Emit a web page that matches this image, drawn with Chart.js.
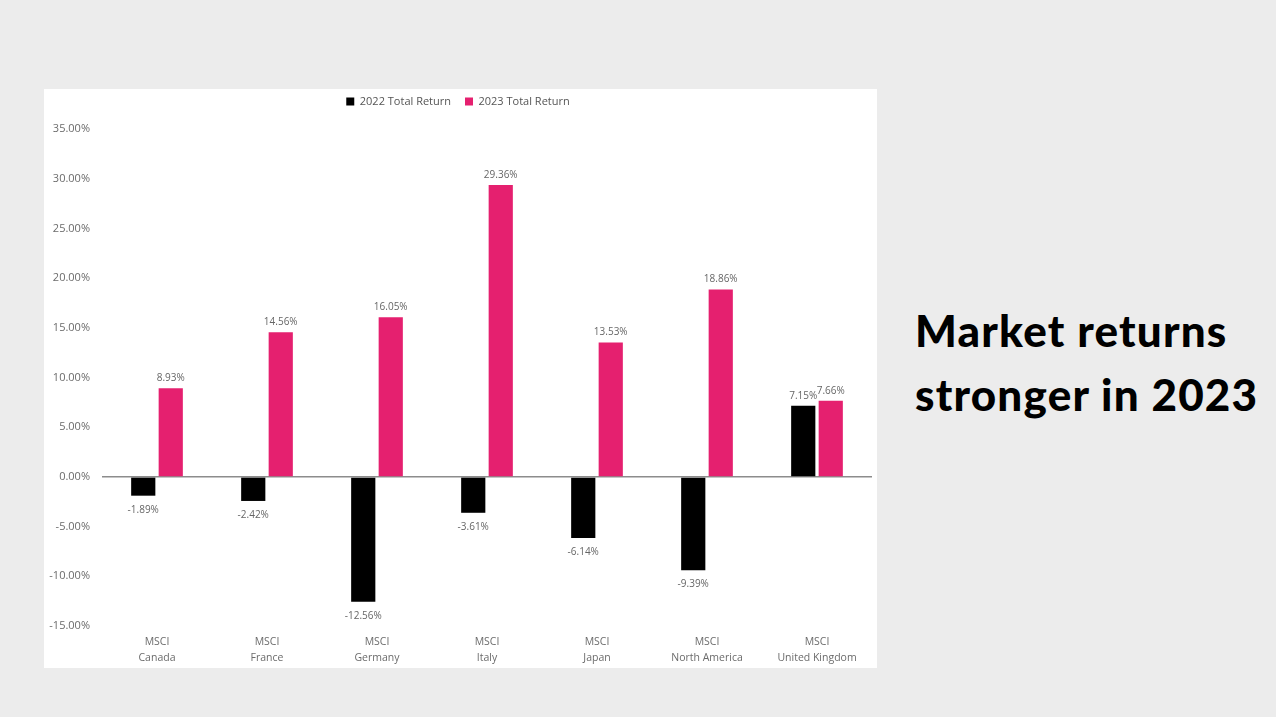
<!DOCTYPE html>
<html>
<head>
<meta charset="utf-8">
<script src="https://cdn.jsdelivr.net/npm/chart.js@4/dist/chart.umd.min.js"></script>
<style>
    html, body { margin: 0; padding: 0; }
    body { width: 1276px; height: 717px; background: #ececec; position: relative; overflow: hidden; }
    .panel { position: absolute; left: 44px; top: 89px; width: 833px; height: 579px; background: #fff; }
    .headline { position: absolute; left: 915px; top: 298px; font-family: Lato, sans-serif; font-weight: 900;
        font-size: 44px; line-height: 64px; color: #000; letter-spacing: 1.2px; }
</style>
</head>
<body>
<div class="panel">
    <canvas id="stats" width="833" height="579"></canvas>
</div>
<div class="headline">Market returns<br>stronger in 2023</div>

<script>
    var categories = [['MSCI', 'Canada'], ['MSCI', 'France'], ['MSCI', 'Germany'], ['MSCI', 'Italy'],
        ['MSCI', 'Japan'], ['MSCI', 'North America'], ['MSCI', 'United Kingdom']];
    var return2022 = [-1.89, -2.42, -12.56, -3.61, -6.14, -9.39, 7.15];
    var return2023 = [8.93, 14.56, 16.05, 29.36, 13.53, 18.86, 7.66];
    var seriesNames = ['2022 Total Return', '2023 Total Return'];

    // labels above / below each bar, plus extra room under the legend
    var barLabels = {
        id: 'barLabels',
        beforeLayout: function (chart) {
            var lg = chart.legend;
            if (lg && !lg._patched) {
                var fit = lg.fit;
                lg.fit = function () { fit.call(this); this.height += 12; };
                lg._patched = true;
            }
        },
        afterDatasetsDraw: function (chart) {
            var ctx = chart.ctx;
            ctx.save();
            ctx.font = '10px "Open Sans", sans-serif';
            ctx.fillStyle = '#666666';
            ctx.textAlign = 'center';
            chart.data.datasets.forEach(function (ds, i) {
                chart.getDatasetMeta(i).data.forEach(function (bar, j) {
                    var v = ds.data[j];
                    var txt = v.toFixed(2) + '%';
                    if (v >= 0) {
                        ctx.textBaseline = 'bottom';
                        ctx.fillText(txt, bar.x, bar.y - 5);
                    } else {
                        ctx.textBaseline = 'top';
                        ctx.fillText(txt, bar.x, bar.y + 9);
                    }
                });
            });
            ctx.restore();
        }
    };

    var ctx = document.getElementById('stats').getContext('2d');
    new Chart(ctx, {
        type: 'bar',
        data: {
            labels: categories,
            datasets: [
                { label: seriesNames[0], data: return2022, backgroundColor: '#000000' },
                { label: seriesNames[1], data: return2023, backgroundColor: '#e5206f' }
            ]
        },
        options: {
            responsive: false,
            animation: false,
            maintainAspectRatio: false,
            categoryPercentage: 0.5,
            barPercentage: 0.88,
            layout: { padding: { left: 0, right: 5, top: -7, bottom: 4 } },
            plugins: {
                tooltip: { enabled: false },
                legend: {
                    position: 'top',
                    labels: {
                        boxWidth: 8, boxHeight: 8, padding: 14, color: '#555555',
                        font: { family: '"Open Sans", sans-serif', size: 11 }
                    }
                }
            },
            scales: {
                x: {
                    afterFit: function (scale) { scale.height = 38; },
                    grid: { display: false },
                    border: { display: false },
                    ticks: {
                        color: '#6b6b6b', padding: 0,
                        font: { family: '"Open Sans", sans-serif', size: 10.5, lineHeight: 1.5 }
                    }
                },
                y: {
                    min: -15,
                    max: 35,
                    afterFit: function (scale) { scale.width = 58; },
                    border: { display: false },
                    grid: {
                        drawTicks: false,
                        color: function (c) { return c.tick && c.tick.value === 0 ? '#8c8c8c' : 'rgba(0,0,0,0)'; },
                        lineWidth: 1.5
                    },
                    ticks: {
                        stepSize: 5,
                        padding: 12,
                        color: '#6b6b6b',
                        font: { family: '"Open Sans", sans-serif', size: 11 },
                        callback: function (v) { return v.toFixed(2) + '%'; }
                    }
                }
            }
        },
        plugins: [barLabels]
    });
</script>
</body>
</html>
